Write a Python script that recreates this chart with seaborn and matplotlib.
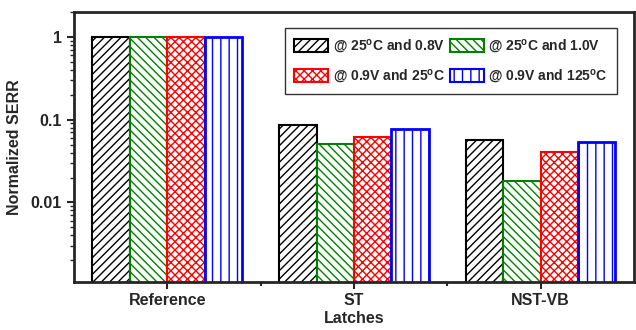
import pandas as pd
import matplotlib
matplotlib.use("Agg")
import matplotlib.pyplot as plt
import matplotlib.ticker as mticker
from matplotlib.patches import Patch
import seaborn as sns

latches = ["Reference", "ST", "NST-VB"]
conditions = ["@ 25$^\\mathregular{o}$C and 0.8V", "@ 25$^\\mathregular{o}$C and 1.0V",
              "@ 0.9V and 25$^\\mathregular{o}$C", "@ 0.9V and 125$^\\mathregular{o}$C"]
serr_25c_08v = [1.0, 0.086, 0.0565]
serr_25c_10v = [1.0, 0.051, 0.018]
serr_09v_25c = [1.0, 0.062, 0.0406]
serr_09v_125c = [1.0, 0.076, 0.0534]

colors = ["black", "green", "red", "blue"]
hatches = ["////", "\\\\\\\\", "xxxx", "||"]

rows = []
for cond, vals in zip(conditions, [serr_25c_08v, serr_25c_10v, serr_09v_25c, serr_09v_125c]):
    for latch, v in zip(latches, vals):
        rows.append({"latch": latch, "cond": cond, "serr": v})
df = pd.DataFrame(rows)

sns.set_style("ticks")
plt.rcParams["font.family"] = ["Liberation Sans", "DejaVu Sans"]
plt.rcParams["font.weight"] = "bold"
plt.rcParams["hatch.linewidth"] = 1.0

fig = plt.figure(figsize=(6.36, 3.3), dpi=100)
ax = fig.add_axes([0.116, 0.146, 0.881, 0.818])
ax.set_yscale("log")
sns.barplot(data=df, x="latch", y="serr", hue="cond", hue_order=conditions,
            order=latches, palette=colors, width=0.8, ax=ax, legend=False)

for i, cond in enumerate(conditions):
    for patch in ax.containers[i]:
        patch.set_facecolor("white")
        patch.set_edgecolor(colors[i])
        patch.set_hatch(hatches[i])
        patch.set_linewidth(2.0 if colors[i] == "blue" else 1.5)

ax.set_ylim(0.0011, 2.0)
ax.set_xlim(-0.5, 2.5)
ax.yaxis.set_major_formatter(mticker.FuncFormatter(lambda v, p: "%g" % v))
ax.yaxis.set_minor_formatter(mticker.NullFormatter())
ax.set_ylabel("Normalized SERR", fontsize=11.5, fontweight="bold", labelpad=6)
ax.set_xlabel("Latches", fontsize=11.5, fontweight="bold", labelpad=2)
ax.tick_params(axis="both", labelsize=11.5, width=1.5)
ax.tick_params(axis="x", length=5, pad=3)
ax.tick_params(axis="y", which="major", length=5)
ax.tick_params(axis="y", which="minor", length=3, width=1)
ax.xaxis.set_minor_locator(mticker.FixedLocator([0.5, 1.5]))
ax.tick_params(axis="x", which="minor", length=3, width=1.5)
for s in ax.spines.values():
    s.set_linewidth(2)
    s.set_visible(True)
for lbl in ax.get_xticklabels() + ax.get_yticklabels():
    lbl.set_fontweight("bold")

handles = [Patch(facecolor="white", edgecolor=c, hatch=h, linewidth=1.5)
           for c, h in zip(colors, hatches)]
# order for 2-column legend: row1 = 0,1 ; row2 = 2,3
order = [0, 2, 1, 3]
leg = ax.legend([handles[i] for i in order], [conditions[i] for i in order],
                ncol=2, loc="upper right", bbox_to_anchor=(0.982, 0.965),
                frameon=True, fancybox=False, edgecolor="black",
                prop={"size": 10, "weight": "bold"}, handlelength=2.4,
                handleheight=1.0, columnspacing=0.4, handletextpad=0.35,
                labelspacing=0.9, borderpad=0.65)
leg.get_frame().set_linewidth(1.0)

fig.savefig("out.png", dpi=100)
